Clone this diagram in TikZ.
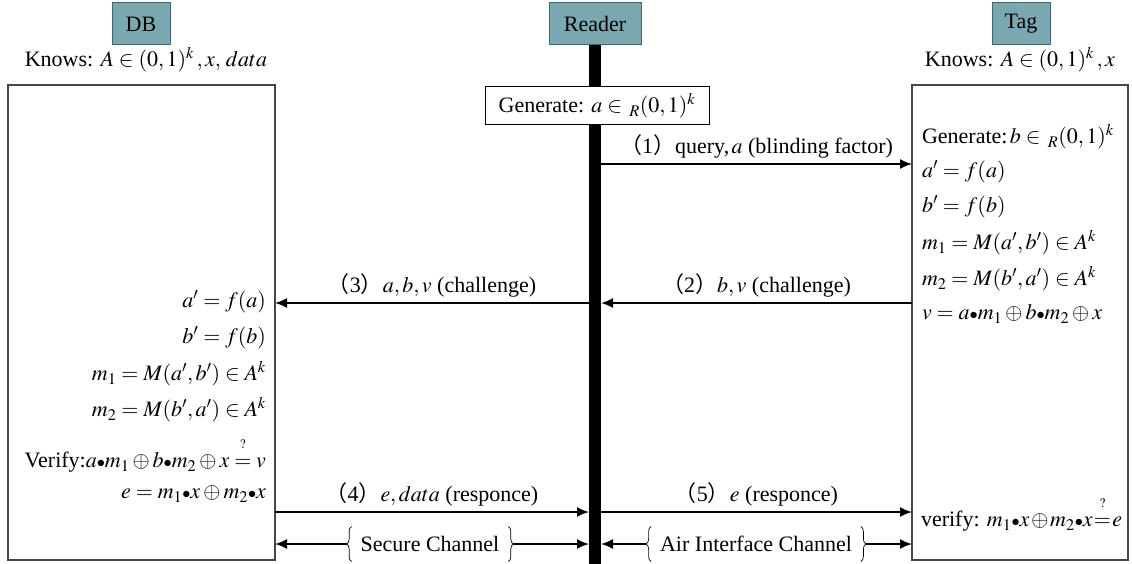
\documentclass[tikz,border=0pt]{standalone}
\usepackage{mathptmx}
\usepackage[no-math]{fontspec}
\setmainfont{Liberation Serif}
\newfontfamily\cjk{Noto Sans CJK SC}
\usetikzlibrary{arrows.meta,decorations.pathreplacing}
\definecolor{hdrfill}{RGB}{122,168,176}
\definecolor{hdrline}{RGB}{62,104,112}
\definecolor{boxline}{RGB}{70,70,70}
\newcommand{\bul}{{\scriptstyle\bullet}}
\newcommand{\qe}{\stackrel{\raisebox{7pt}{$\scriptscriptstyle ?$}}{=}}
\newcommand{\pn}[1]{{\cjk （}#1{\cjk ）}}
\begin{document}
\begin{tikzpicture}[x=1pt,y=-1pt,
  every node/.style={font=\fontsize{22}{26}\selectfont, inner sep=0pt, outer sep=0pt},
  hdr/.style={draw=hdrline, fill=hdrfill, line width=1pt, minimum height=42pt},
  bigbox/.style={draw=boxline, line width=1.4pt, anchor=north west, minimum height=475pt},
  arr/.style={line width=1.8pt, -{Latex[length=12pt,width=10pt]}},
  lbl/.style={above=6pt},
  brc/.style={decorate, decoration={brace, amplitude=5pt}, line width=0.7pt},
  tline/.style={anchor=west},
  dline/.style={anchor=east}]
\useasboundingbox (0,0) rectangle (1132,564);

% boxes
\node[bigbox, minimum width=267pt] (db) at (8,85) {};
\node[bigbox, minimum width=216pt] (tg) at (912,85) {};

% headers
\node[hdr, minimum width=58pt] (dbh) at (141,24) {DB};
\node[hdr, minimum width=92pt] (rdh) at (595,24) {Reader};
\node[hdr, minimum width=58pt] (tgh) at (1021,24) {Tag};
\node (dbk) at (146,60) {Knows: $A\in(0,1)^k\,,x,\,data$};
\node (tgk) at (1020,60) {Knows: $A\in(0,1)^k\,,x$};

% lifeline
\node[fill=black, minimum width=12pt, minimum height=519pt, anchor=north] (ll) at (rdh.south) {};
\node[draw=black, fill=white, line width=1pt, minimum width=224pt, minimum height=38pt] (gen) at (597,106) {Generate: $a\in\,{}_R(0,1)^k$};

% y levels
\coordinate (y1) at (0,164);
\coordinate (y2) at (0,303);
\coordinate (y4) at (0,512);
\coordinate (y6) at (0,543);

% messages
\draw[arr] (ll.east |- y1) -- (tg.west |- y1) node[midway, lbl] (l1) {\pn{1}query,$\,a$ (blinding factor)};
\draw[arr] (tg.west |- y2) -- (ll.east |- y2) node[midway, lbl] (l2) {\pn{2}$b,v$ (challenge)};
\draw[arr] (ll.west |- y2) -- (db.east |- y2) node[midway, lbl] (l3) {\pn{3}$a,b,v$ (challenge)};
\draw[arr] (db.east |- y4) -- (ll.west |- y4) node[midway, lbl] (l4) {\pn{4}$e,data$ (responce)};
\draw[arr] (ll.east |- y4) -- (tg.west |- y4) node[midway, lbl] (l5) {\pn{5}$e$ (responce)};

% channels
\node[minimum height=35pt] (sc) at (430,544) {Secure Channel};
\node[minimum height=35pt] (ai) at (756,544) {Air Interface Channel};
\draw[brc] ([xshift=-9pt]sc.south west) -- ([xshift=-9pt]sc.north west);
\draw[brc] ([xshift=9pt]sc.north east) -- ([xshift=9pt]sc.south east);
\draw[brc] ([xshift=-9pt]ai.south west) -- ([xshift=-9pt]ai.north west);
\draw[brc] ([xshift=9pt]ai.north east) -- ([xshift=9pt]ai.south east);
\coordinate (scL) at ([xshift=-14pt]sc.west);
\coordinate (scR) at ([xshift=14pt]sc.east);
\coordinate (aiL) at ([xshift=-14pt]ai.west);
\coordinate (aiR) at ([xshift=14pt]ai.east);
\draw[arr] (scL) -- (db.east |- scL);
\draw[arr] (scR) -- (ll.west |- scR);
\draw[arr] (aiL) -- (ll.east |- aiL);
\draw[arr] (aiR) -- (tg.west |- aiR);

% tag text
\node[tline] (t1) at (922,137) {Generate:$\,b\in\,{}_R(0,1)^k$};
\node[tline] (t2) at (922,172) {$a'=f(a)$};
\node[tline] (t3) at (922,207) {$b'=f(b)$};
\node[tline] (t4) at (922,243) {$m_1=M(a',b')\in A^k$};
\node[tline] (t5) at (922,279) {$m_2=M(b',a')\in A^k$};
\node[tline] (t6) at (922,314) {$v=a\bul m_1\oplus b\bul m_2\oplus x$};
\node[tline] (t7) at (921,514) {\medmuskip=1.5mu\thickmuskip=1mu verify: $m_1\bul x\oplus m_2\bul x\qe e$};

% db text
\node[dline] (d1) at (266,302) {$a'=f(a)$};
\node[dline] (d2) at (266,338) {$b'=f(b)$};
\node[dline] (d3) at (266,374) {$m_1=M(a',b')\in A^k$};
\node[dline] (d4) at (266,410) {$m_2=M(b',a')\in A^k$};
\node[dline] (d5) at (266,455) {Verify:$a\bul m_1\oplus b\bul m_2\oplus x\qe v$};
\node[dline] (d6) at (266,494) {$e=m_1\bul x\oplus m_2\bul x$};
\end{tikzpicture}
\end{document}
